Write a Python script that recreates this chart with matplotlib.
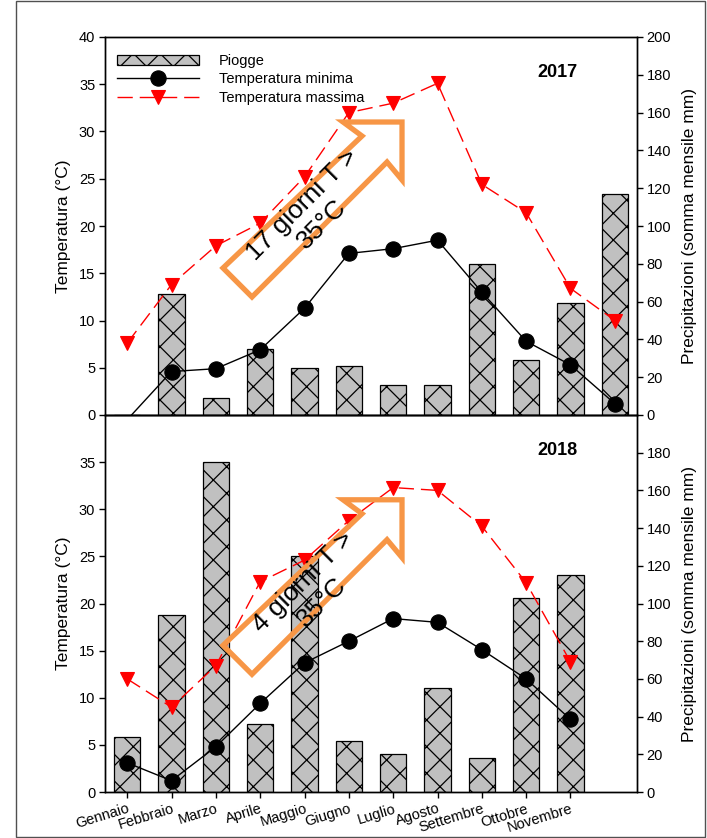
import numpy as np
import matplotlib.pyplot as plt
from matplotlib.patches import Polygon, Rectangle
from matplotlib.lines import Line2D

plt.rcParams['font.family'] = ['Liberation Sans', 'DejaVu Sans']

mesi = ['Gennaio', 'Febbraio', 'Marzo', 'Aprile', 'Maggio', 'Giugno', 'Luglio',
        'Agosto', 'Settembre', 'Ottobre', 'Novembre', 'Dicembre']

# 2017 (12 mesi)
piogge_2017 = [0, 64, 9, 35, 25, 26, 16, 16, 80, 29, 59, 117]
tmin_2017 = [-0.5, 4.6, 4.9, 6.9, 11.3, 17.1, 17.6, 18.5, 13.0, 7.8, 5.3, 1.2]
tmax_2017 = [7.6, 13.8, 17.9, 20.3, 25.2, 32.0, 33.0, 35.1, 24.4, 21.4, 13.4, 10.0]

# 2018 (gennaio-novembre)
piogge_2018 = [29, 94, 175, 36, 125, 27, 20, 55, 18, 103, 115]
tmin_2018 = [3.1, 1.2, 4.8, 9.4, 13.7, 16.0, 18.4, 18.0, 15.1, 12.0, 7.7]
tmax_2018 = [12.0, 9.0, 13.4, 22.3, 24.6, 28.8, 32.3, 32.0, 28.2, 22.2, 13.8]

anni = ['2017', '2018']
testi = ['17 giorni T >\n35°C', '4 giorni T >\n35°C']

arancio = '#F79646'
freccia = [(0.2218, 0.3889), (0.2763, 0.3122), (0.5301, 0.6693), (0.5583, 0.6217),
           (0.5583, 0.7751), (0.4474, 0.7751), (0.4831, 0.7381)]

# dpi 80 so the hatch is a bit denser; k keeps the sizes in pixels
DPI = 80
k = 100 / DPI
W, H = 707, 838
fig = plt.figure(figsize=(W / DPI, H / DPI), dpi=DPI)
plt.rcParams['hatch.linewidth'] = 0.9 * k

left, right = 105 / W, 637 / W
pos = [(1 - 415 / H, 1 - 37 / H), (1 - 792 / H, 1 - 415 / H)]

dati = [(piogge_2017, tmin_2017, tmax_2017), (piogge_2018, tmin_2018, tmax_2018)]

for i, (p, tn, tx) in enumerate(dati):
    b, t = pos[i]
    ax = fig.add_axes([left, b, right - left, t - b])
    ax2 = ax.twinx()
    ax.set_zorder(ax2.get_zorder() + 1)
    ax.patch.set_visible(False)

    x = np.arange(len(p))
    ax2.bar(x, p, width=0.6, color='#C0C0C0', edgecolor='black', linewidth=0.9 * k,
            hatch='x')
    visibili = [j for j, v in enumerate(tn) if v >= 0]
    ax.plot(x, tn, color='black', lw=1 * k, marker='o', ms=11 * k,
            markevery=visibili)
    ax.plot(x, tx, color='red', lw=1 * k, dashes=(11, 5), marker='v', ms=10 * k,
            mec='red', mfc='red')

    ax.set_xlim(-0.5, 11.5)
    ax.set_ylim(0, 40)
    ax2.set_ylim(0, 200)
    ax.set_ylabel('Temperatura (°C)', fontsize=12.5 * k, labelpad=6 * k)
    ax2.set_ylabel('Precipitazioni (somma mensile mm)', fontsize=12.5 * k,
                   labelpad=8 * k)

    if i == 0:
        ax.set_yticks(np.arange(0, 41, 5))
        ax2.set_yticks(np.arange(0, 201, 20))
        ax.set_xticks([])
        ax2.set_xticks([])
    else:
        ax.set_yticks(np.arange(0, 36, 5))
        ax2.set_yticks(np.arange(0, 181, 20))
        ax.set_xticks(np.arange(11))
        ax.set_xticklabels(mesi[:11], rotation=17, ha='right',
                           rotation_mode='anchor', fontsize=10.5 * k)

    for a in (ax, ax2):
        a.tick_params(direction='out', length=4 * k, width=1 * k,
                      labelsize=10.5 * k, pad=3 * k)
        for s in a.spines.values():
            s.set_linewidth(1 * k)

    ax.text(0.85, 0.905, anni[i], transform=ax.transAxes, fontsize=13 * k,
            fontweight='bold', ha='center', va='center')

    ax.add_patch(Polygon(freccia, closed=True, transform=ax.transAxes,
                         fill=False, edgecolor=arancio, lw=3.8 * k, zorder=5,
                         joinstyle='miter'))
    ax.text(0.39, 0.53, testi[i], transform=ax.transAxes, fontsize=19 * k,
            rotation=45, ha='center', va='center', multialignment='center',
            linespacing=1.2, zorder=6)

    if i == 0:
        h = [Rectangle((0, 0), 1, 1, facecolor='#C0C0C0', edgecolor='black',
                       hatch='x', linewidth=0.9 * k),
             Line2D([], [], color='black', lw=1 * k, marker='o', ms=11 * k),
             Line2D([], [], color='red', lw=1 * k, dashes=(11, 5), marker='v',
                    ms=10 * k)]
        ax.legend(h, ['Piogge', 'Temperatura minima', 'Temperatura massima'],
                  loc='upper left', bbox_to_anchor=(0.0226, 0.955),
                  frameon=False, fontsize=10.5 * k, handlelength=5.6,
                  handletextpad=1.4, labelspacing=0.3, borderpad=0,
                  borderaxespad=0, numpoints=1)

# cornice attorno all'immagine
fig.add_artist(Rectangle((16 / W, 1 / H), (705 - 16) / W, (837 - 1) / H,
                         transform=fig.transFigure, fill=False,
                         edgecolor='#505050', lw=1 * k))

fig.savefig('out.png', dpi=DPI)
